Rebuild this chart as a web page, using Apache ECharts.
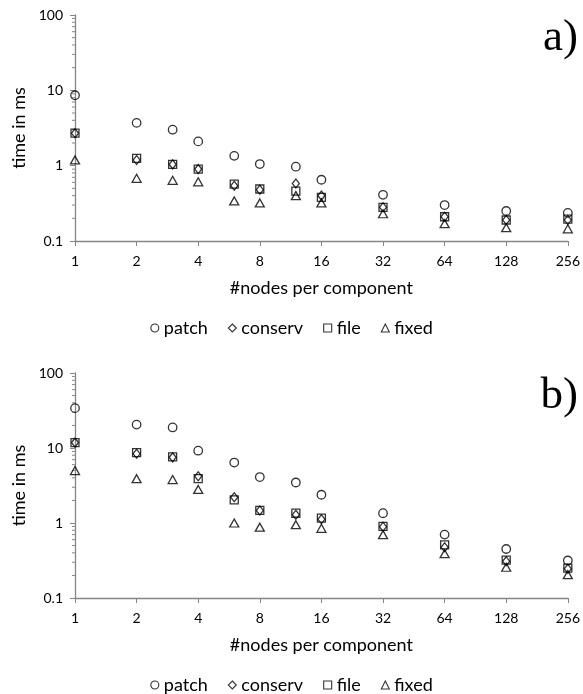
<!DOCTYPE html>
<html><head><meta charset="utf-8">
<script src="https://cdn.jsdelivr.net/npm/echarts@6/dist/echarts.min.js"></script>
<style>html,body{margin:0;padding:0;background:#fff}#c{width:583px;height:694px}</style>
</head><body><div id="c"></div>
<script>
const nodes = [1, 2, 3, 4, 6, 8, 12, 16, 32, 64, 128, 256];
const xTicks = [1, 2, 4, 8, 16, 32, 64, 128, 256];
const yMinorTicks = [0.2,0.3,0.4,0.5,0.6,0.7,0.8,0.9,2,3,4,5,6,7,8,9,20,30,40,50,60,70,80,90];
const seriesNames = ['patch', 'conserv', 'file', 'fixed'];

const aPatch   = [8.6, 3.7, 3.0, 2.1, 1.35, 1.05, 0.97, 0.65, 0.41, 0.30, 0.25, 0.236];
const aConserv = [2.7, 1.19, 1.04, 0.90, 0.54, 0.48, 0.58, 0.40, 0.28, 0.21, 0.19, 0.19];
const aFile    = [2.7, 1.25, 1.04, 0.90, 0.57, 0.49, 0.46, 0.38, 0.28, 0.21, 0.19, 0.195];
const aFixed   = [1.19, 0.68, 0.64, 0.61, 0.34, 0.32, 0.40, 0.32, 0.23, 0.17, 0.15, 0.145];

const bPatch   = [34, 20.5, 18.8, 9.2, 6.4, 4.1, 3.47, 2.38, 1.35, 0.70, 0.45, 0.316];
const bConserv = [11.8, 8.4, 7.5, 4.2, 2.2, 1.47, 1.29, 1.12, 0.89, 0.475, 0.31, 0.245];
const bFile    = [11.8, 8.65, 7.6, 3.9, 2.04, 1.47, 1.35, 1.16, 0.90, 0.51, 0.32, 0.25];
const bFixed   = [5.0, 3.9, 3.8, 2.8, 1.0, 0.88, 0.95, 0.85, 0.70, 0.39, 0.257, 0.205];

const FONT = 'Lato';
const AXIS_COLOR = '#868686';
const symbols = { patch: 'circle', conserv: 'diamond', file: 'rect', fixed: 'triangle' };
const sizes = { patch: 8.5, conserv: [7, 9], file: 8, fixed: [9, 8] };

function pair(vals) { return nodes.map((n, i) => [n, vals[i]]); }

function scatter(name, vals, idx) {
  return {
    type: 'scatter', name, xAxisIndex: idx, yAxisIndex: idx, clip: false,
    symbol: symbols[name], symbolSize: sizes[name],
    itemStyle: { color: 'rgba(0,0,0,0)', borderColor: '#000', borderWidth: 1.3 },
    emphasis: { disabled: true },
    data: pair(vals)
  };
}

function minorTicks(idx) {
  return {
    type: 'custom', xAxisIndex: idx, yAxisIndex: idx, clip: false, silent: true,
    data: yMinorTicks.map(v => [1, v]),
    renderItem: (params, api) => {
      const p = api.coord([api.value(0), api.value(1)]);
      return { type: 'line', shape: { x1: p[0] - 3, y1: p[1], x2: p[0], y2: p[1] },
        style: { stroke: AXIS_COLOR, lineWidth: 1 } };
    }
  };
}

function xAxis(idx) {
  return {
    type: 'log', logBase: 2, min: 1, max: 256, gridIndex: idx,
    name: '#nodes per component', nameLocation: 'middle', nameGap: 38,
    nameTextStyle: { fontFamily: FONT, fontSize: 18, color: '#000' },
    axisLine: { lineStyle: { color: AXIS_COLOR, width: 1.3 } },
    axisTick: { show: true, length: 5, lineStyle: { color: AXIS_COLOR } },
    axisLabel: { fontFamily: FONT, fontSize: 14, color: '#000', margin: 13 },
    splitLine: { show: false }
  };
}
function yAxis(idx) {
  return {
    type: 'log', logBase: 10, min: 0.1, max: 100, gridIndex: idx,
    name: 'time in ms', nameLocation: 'middle', nameGap: 46, nameRotate: 90,
    nameTextStyle: { fontFamily: FONT, fontSize: 18, color: '#000' },
    axisLine: { show: true, lineStyle: { color: AXIS_COLOR, width: 1.3 } },
    axisTick: { show: true, length: 5, lineStyle: { color: AXIS_COLOR } },
    axisLabel: { fontFamily: FONT, fontSize: 14, color: '#000', margin: 12,
      formatter: v => String(v) },
    splitLine: { show: false }
  };
}
function legend(top) {
  return {
    data: seriesNames, top, left: 'center', itemWidth: 8, itemHeight: 8, itemGap: 20,
    itemStyle: { color: 'rgba(0,0,0,0)', borderColor: '#000', borderWidth: 1.1 },
    textStyle: { fontFamily: FONT, fontSize: 18, color: '#000' }, selectedMode: false
  };
}

const chart = echarts.init(document.getElementById('c'), null, { renderer: 'canvas' });
chart.setOption({
  animation: false,
  backgroundColor: '#fff',
  title: [
    { text: 'a)', right: 5, top: 16, padding: 0, textStyle: { fontFamily: 'Liberation Serif', fontSize: 45, fontWeight: 'normal', color: '#000' } },
    { text: 'b)', right: 5, top: 374, padding: 0, textStyle: { fontFamily: 'Liberation Serif', fontSize: 45, fontWeight: 'normal', color: '#000' } }
  ],
  legend: [legend(314), legend(671)],
  grid: [
    { left: 75, right: 14, top: 15, height: 226 },
    { left: 75, right: 14, top: 373, height: 225 }
  ],
  xAxis: [xAxis(0), xAxis(1)],
  yAxis: [yAxis(0), yAxis(1)],
  series: [
    minorTicks(0), minorTicks(1),
    scatter('patch', aPatch, 0), scatter('conserv', aConserv, 0), scatter('file', aFile, 0), scatter('fixed', aFixed, 0),
    scatter('patch', bPatch, 1), scatter('conserv', bConserv, 1), scatter('file', bFile, 1), scatter('fixed', bFixed, 1)
  ]
});
</script></body></html>
